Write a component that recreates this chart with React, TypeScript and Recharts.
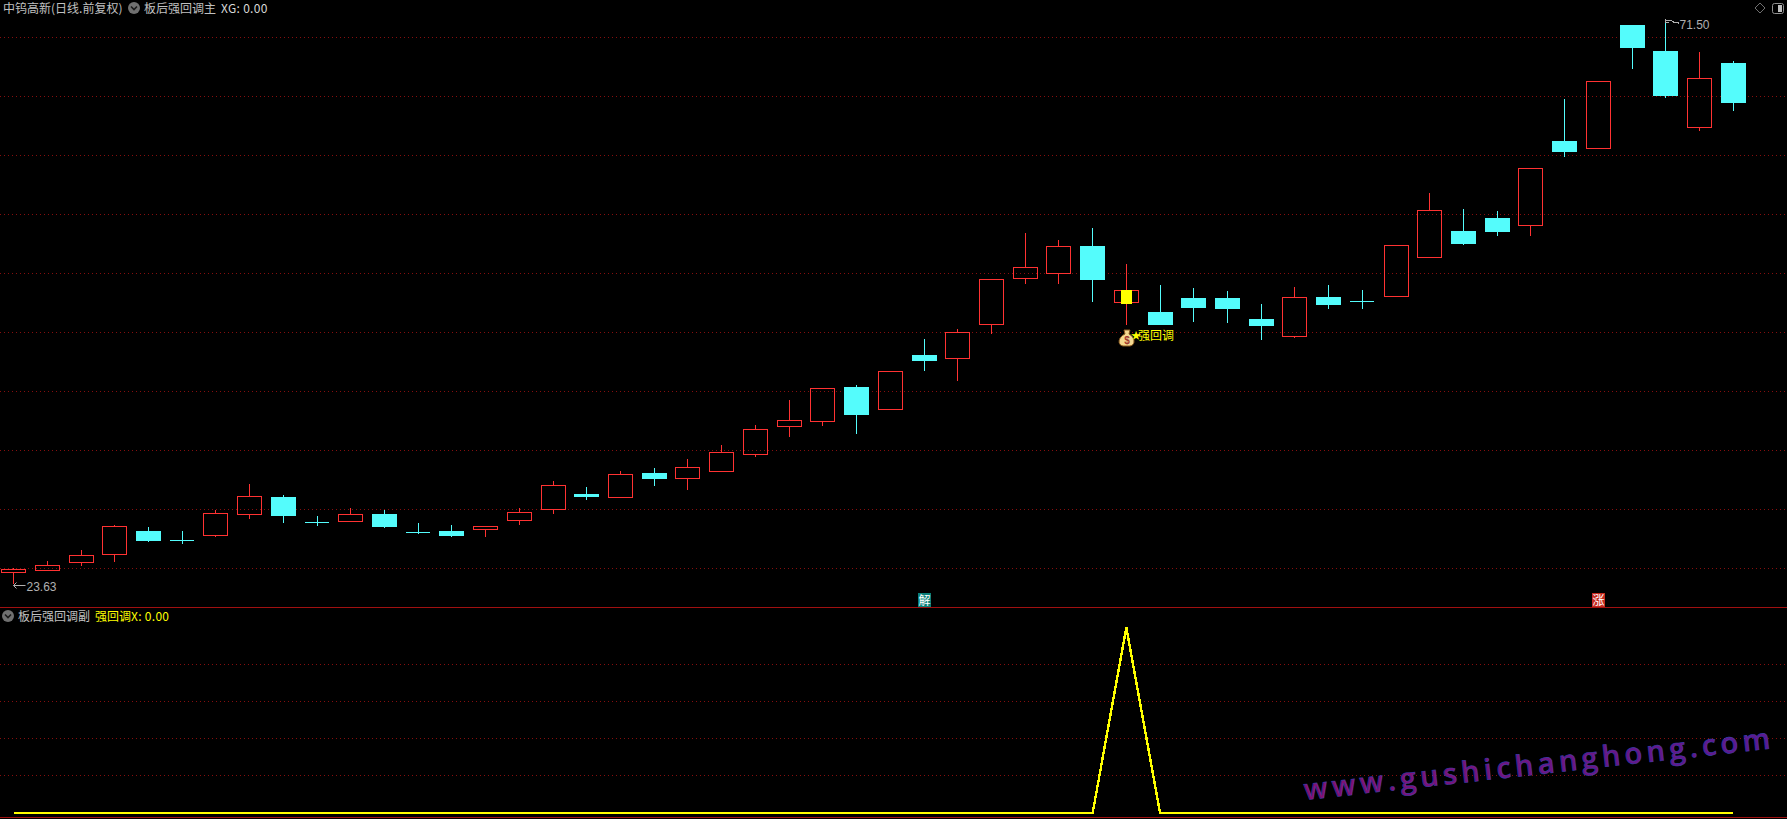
import { Bar, CartesianGrid, ComposedChart, Line, ReferenceDot, XAxis, YAxis } from "recharts";

// daily candles, oldest first
const opens = [24.56, 24.73, 25.41, 26.09, 28.09, 27.31, 27.7, 29.48, 30.97, 28.83, 28.88, 29.53, 27.98, 28.09, 28.2, 28.97, 29.9, 31.23, 30.91, 33.01, 32.52, 33.12, 34.56, 36.93, 37.35, 40.29, 38.37, 43.0, 42.69, 45.57, 49.46, 49.92, 52.23, 47.43, 46.64, 47.83, 47.83, 46.05, 44.55, 47.91, 47.55, 47.94, 51.24, 53.5, 54.61, 53.95, 61.13, 60.48, 70.95, 68.75, 62.25, 67.73];
const closes = [24.85, 25.19, 26.04, 28.49, 27.25, 27.31, 29.59, 31.03, 29.36, 28.83, 29.51, 28.43, 27.98, 27.67, 28.49, 29.68, 31.97, 30.97, 32.9, 32.5, 33.49, 34.76, 36.71, 37.47, 40.18, 37.92, 41.62, 42.49, 44.92, 49.41, 50.43, 52.21, 49.35, 48.48, 45.54, 46.98, 46.9, 45.46, 47.89, 47.24, 47.55, 52.29, 55.26, 52.4, 53.42, 58.81, 60.2, 66.18, 69.0, 64.94, 66.44, 64.35];
const highs = [24.96, 25.55, 26.48, 28.6, 28.43, 28.09, 29.87, 32.08, 31.14, 29.36, 30.04, 29.87, 28.77, 28.6, 28.49, 30.04, 32.33, 31.82, 33.18, 33.43, 34.19, 35.38, 37.07, 39.19, 40.18, 40.46, 41.62, 44.36, 45.2, 49.41, 53.33, 52.74, 53.76, 50.71, 48.93, 48.68, 48.42, 47.32, 48.76, 48.93, 48.51, 52.29, 56.72, 55.37, 55.2, 58.81, 64.68, 66.18, 70.95, 71.5, 68.67, 67.9];
const lows = [23.63, 24.73, 25.13, 25.47, 27.16, 26.99, 27.59, 29.11, 28.77, 28.52, 28.88, 28.35, 27.84, 27.59, 27.59, 28.6, 29.53, 30.72, 30.91, 31.91, 31.57, 33.12, 34.36, 36.06, 36.99, 36.31, 38.37, 41.65, 40.8, 44.78, 49.02, 49.02, 47.49, 45.54, 45.54, 45.8, 45.71, 44.27, 44.44, 46.9, 46.9, 47.94, 51.24, 52.32, 53.08, 53.08, 59.77, 60.48, 67.23, 64.77, 61.97, 63.67];
const signals = [0, 0, 0, 0, 0, 0, 0, 0, 0, 0, 0, 0, 0, 0, 0, 0, 0, 0, 0, 0, 0, 0, 0, 0, 0, 0, 0, 0, 0, 0, 0, 0, 0, 1, 0, 0, 0, 0, 0, 0, 0, 0, 0, 0, 0, 0, 0, 0, 0, 0, 0, 0];

const priceTicks = [69.9, 64.9, 59.9, 54.9, 49.9, 44.9, 39.9, 34.9, 29.9, 24.9];
const signalTicks = [0.2, 0.4, 0.6, 0.8];

const RED = "#ff3232";
const CYAN = "#54fcfc";
const YELLOW = "#ffff00";
const GRID = "#860e0e";
const LABEL = "#c0c0c0";
const PRICE_LABEL = "#b0b0b0";
const CJK = '"Noto Sans CJK SC", "Liberation Sans", sans-serif';
const X_DOMAIN = [-0.4033, 52.592];

const candles = opens.map((open, i) => ({
  index: i,
  open,
  close: closes[i],
  high: highs[i],
  low: lows[i],
  range: [lows[i], highs[i]],
  signal: signals[i],
}));

function CandleShape(props: any) {
  const { x, y, width, height, payload } = props;
  const { open, close, high, low, signal } = payload;
  const perUnit = height / (high - low);
  const yOf = (v: number) => y + (high - v) * perUnit;
  // recharts truncates the bar offset, 0.36 puts it back on the band centre
  const col = Math.floor(x + width / 2 + 0.36);
  const wx = col + 0.5;
  const top = yOf(Math.max(open, close));
  const bottom = yOf(Math.min(open, close));

  if (open === close) {
    return (
      <g shapeRendering="crispEdges">
        <line x1={wx} x2={wx} y1={Math.round(y)} y2={Math.round(y + height)} stroke={CYAN} />
        <line x1={col - 12} x2={col + 12} y1={Math.floor(top) + 0.5} y2={Math.floor(top) + 0.5} stroke={CYAN} />
      </g>
    );
  }
  if (close < open) {
    return (
      <g shapeRendering="crispEdges">
        <line x1={wx} x2={wx} y1={Math.round(y)} y2={Math.round(y + height)} stroke={CYAN} />
        <rect x={col - 12} width={25} y={Math.round(top)} height={Math.round(bottom) - Math.round(top)} fill={CYAN} />
      </g>
    );
  }
  const t = Math.floor(top) + 0.5;
  const b = Math.floor(bottom) + 0.5;
  return (
    <g shapeRendering="crispEdges">
      <line x1={wx} x2={wx} y1={Math.round(y)} y2={t} stroke={RED} />
      <line x1={wx} x2={wx} y1={b} y2={Math.round(y + height)} stroke={RED} />
      <rect x={col - 11.5} width={24} y={t} height={b - t} fill="none" stroke={RED} />
      {signal ? <rect x={col - 5} width={11} y={Math.floor(top)} height={Math.ceil(bottom - top) + 1} fill={YELLOW} /> : null}
    </g>
  );
}

// grid adds lines on the plot edges, the original has none there
const gridLine = (panelHeight: number) => (p: any) => {
  if (p.y1 <= 1 || p.y1 >= panelHeight - 1) return <g key={p.key ?? p.y1} />;
  const y = Math.floor(p.y1) + 0.5;
  return <line key={p.key ?? y} x1={p.x1} x2={p.x2} y1={y} y2={y} stroke={GRID} strokeDasharray="1 3" />;
};

function HighLabel(props: any) {
  const x = Math.floor(props.cx) + 0.5;
  const y = Math.round(props.cy);
  return (
    <g>
      <path d={`M${x} ${y} v3 h3 M${x} ${y + 1} h3 M${x + 3} ${y + 2} q3 -1 5 1 q3 1 5 1`} stroke={PRICE_LABEL} fill="none" shapeRendering="crispEdges" />
      <text x={x + 14} y={y + 10} fill={PRICE_LABEL} fontSize={12} fontFamily="Liberation Sans">71.50</text>
    </g>
  );
}

function LowLabel(props: any) {
  const x = Math.floor(props.cx) + 0.5;
  const y = Math.round(props.cy) + 1.5;
  return (
    <g>
      <path d={`M${x} ${y} H${x + 12} M${x + 3} ${y - 3} L${x} ${y} L${x + 3} ${y + 3}`} stroke={PRICE_LABEL} fill="none" />
      <text x={x + 13} y={y + 5} fill={PRICE_LABEL} fontSize={12} fontFamily="Liberation Sans">23.63</text>
    </g>
  );
}

function Badge(props: any) {
  const x = Math.floor(props.cx);
  return (
    <g>
      <rect x={x - 6} y={593} width={13} height={14} fill={props.bg} />
      <text x={x + 0.5} y={604.5} textAnchor="middle" fill="#ffffff" fontSize={12} fontFamily={CJK}>{props.text}</text>
    </g>
  );
}

function SignalLabel(props: any) {
  const x = Math.floor(props.cx);
  const y = Math.round(props.cy);
  return (
    <g transform={`translate(${x} ${y})`}>
      <path d="M-2 5 L4 5 L3 9 C9 12 10 20 4 21 L-3 21 C-9 20 -8 12 -1 9 Z" fill="#f4d890" stroke="#8a5a20" strokeWidth={1} />
      <text x={1} y={19} textAnchor="middle" fontSize={10} fontWeight={700} fill="#a03a30" fontFamily="Liberation Sans">$</text>
      <text x={5} y={14} fontSize={10} fill={YELLOW} fontFamily={CJK}>★</text>
      <text x={12} y={15} fontSize={12} fill={YELLOW} fontFamily={CJK}>强回调</text>
    </g>
  );
}

function CollapseIcon({ x, y }: { x: number; y: number }) {
  return (
    <svg width={12} height={12} style={{ position: "absolute", left: x, top: y }}>
      <circle cx={6} cy={6} r={6} fill="#707070" />
      <path d="M3 4.5 L6 7.5 L9 4.5" stroke="#1a1a1a" strokeWidth={1.6} fill="none" />
    </svg>
  );
}

function Caption({ x, y, color, text, spacing = 0 }: { x: number; y: number; color: string; text: string; spacing?: number }) {
  return (
    <div style={{ position: "absolute", left: x, top: y, color, fontSize: 12, lineHeight: "16px", fontFamily: CJK, whiteSpace: "nowrap", letterSpacing: spacing }}>
      {text}
    </div>
  );
}

export default function App() {
  return (
    <div style={{ position: "absolute", left: 0, top: 0, width: 1787, height: 819, background: "#000", overflow: "hidden" }}>
      <div style={{ position: "absolute", left: 0, top: 0 }}>
        <ComposedChart width={1787} height={607} data={candles} margin={{ top: 0, right: 0, bottom: 0, left: 0 }}>
          <CartesianGrid vertical={false} horizontal={gridLine(607)} />
          <XAxis dataKey="index" type="number" domain={X_DOMAIN} hide />
          <YAxis type="number" domain={[21.66, 73.07]} ticks={priceTicks} hide />
          <Bar dataKey="range" barSize={25} shape={CandleShape} isAnimationActive={false} />
          <ReferenceDot x={49} y={71.5} shape={HighLabel} />
          <ReferenceDot x={0} y={23.63} shape={LowLabel} />
          <ReferenceDot x={33} y={45.54} shape={SignalLabel} />
          <ReferenceDot x={27} y={22} shape={(p: any) => <Badge {...p} text="解" bg="#0a7f78" />} />
          <ReferenceDot x={47} y={22} shape={(p: any) => <Badge {...p} text="涨" bg="#c42a20" />} />
        </ComposedChart>
      </div>

      <div style={{ position: "absolute", left: 0, top: 607 }}>
        <ComposedChart width={1787} height={212} data={candles} margin={{ top: 0, right: 0, bottom: 0, left: 0 }}>
          <CartesianGrid vertical={false} horizontal={gridLine(212)} />
          <XAxis dataKey="index" type="number" domain={X_DOMAIN} hide />
          <YAxis type="number" domain={[-0.0323, 1.1105]} ticks={signalTicks} hide />
          <Line dataKey="signal" stroke={YELLOW} strokeWidth={2.4} dot={false} shapeRendering="crispEdges" isAnimationActive={false} />
        </ComposedChart>
      </div>

      <div style={{ position: "absolute", left: 0, top: 607, width: 1787, height: 1, background: "#a01010" }} />
      <div style={{ position: "absolute", left: 0, top: 817, width: 1787, height: 1, background: "#a01010" }} />

      <Caption x={3} y={0} color={LABEL} text="中钨高新(日线.前复权)" />
      <CollapseIcon x={128} y={2} />
      <Caption x={144} y={0} color={LABEL} text="板后强回调主" />
      <Caption x={221} y={0} color="#d8d8d8" text="XG: 0.00" spacing={0.3} />

      <CollapseIcon x={2} y={610} />
      <Caption x={18} y={608} color={LABEL} text="板后强回调副" />
      <Caption x={95} y={608} color={YELLOW} text="强回调" />
      <Caption x={131} y={608} color={YELLOW} text="X: 0.00" spacing={0.3} />

      <svg width={1787} height={819} style={{ position: "absolute", left: 0, top: 0, pointerEvents: "none" }}>
        <defs>
          <linearGradient id="mark" x1="0" x2="1" y1="0" y2="0">
            <stop offset="0" stopColor="#851070" />
            <stop offset="1" stopColor="#5a1a92" />
          </linearGradient>
        </defs>
        <text
          transform="translate(1305 800) rotate(-6.3)"
          fontFamily="Open Sans"
          fontWeight={600}
          fontSize={29}
          letterSpacing={4.4}
          fill="url(#mark)"
          stroke="#3c3ca8"
          strokeWidth={0.6}
        >
          www.gushichanghong.com
        </text>
        <path d="M1760 3 L1765 8 L1760 13 L1755 8 Z" fill="none" stroke="#707070" />
        <rect x={1772.5} y={3.5} width={11} height={10} rx={2} fill="none" stroke="#909090" />
        <rect x={1778} y={5} width={4} height={7} fill="#c0c0c0" />
      </svg>
    </div>
  );
}
